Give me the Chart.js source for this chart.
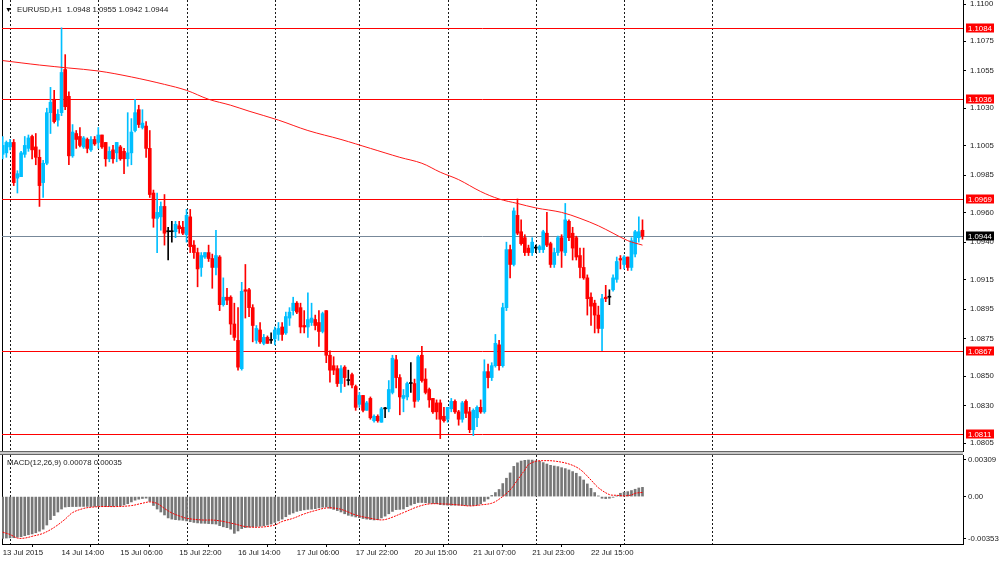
<!DOCTYPE html>
<html><head><meta charset="utf-8">
<script src="https://cdn.jsdelivr.net/npm/chart.js@4.4.0/dist/chart.umd.min.js"></script>
<style>
html,body{margin:0;padding:0;background:#fff;}
#wrap{position:relative;width:1000px;height:561px;overflow:hidden;background:#fff;}
canvas{position:absolute;left:0;}
#c1{top:0;}
#c2{top:455px;}
.txt{position:absolute;font-family:'Liberation Sans',Arial,sans-serif;font-size:7.8px;color:#222;white-space:pre;line-height:10px;}
.sep{position:absolute;left:0;width:963px;height:1px;}
</style></head><body>
<div id="wrap">
<canvas id="c1" width="1000" height="452"></canvas>
<canvas id="c2" width="1000" height="106"></canvas>
<div class="sep" style="top:451px;background:#666"></div>
<div class="sep" style="top:452px;background:#c8c8c8"></div>
<div class="sep" style="top:453px;background:#c8c8c8"></div>
<div class="sep" style="top:454px;background:#666"></div>
<div class="txt" style="left:5px;top:5px;font-size:7px;color:#000">▼</div>
<div class="txt" style="left:17px;top:5px">EURUSD,H1  1.0948 1.0955 1.0942 1.0944</div>
<div class="txt" style="left:7px;top:458px">MACD(12,26,9) 0.00078 0.00035</div>
</div>
<script>
// ---------- DATA ----------
const opens = [1.0999,1.1000,1.1004,1.1007,1.0983,1.0984,1.0999,1.1003,1.1011,1.1004,1.0997,1.0980,1.0993,1.1027,1.1036,1.1022,1.1027,1.1056,1.1038,1.0998,1.1013,1.1011,1.1004,1.1009,1.1002,1.1009,1.1007,1.1012,1.1007,1.0996,1.1002,1.1000,1.1004,1.1001,1.0996,1.1000,1.1015,1.1029,1.1017,1.1018,1.1003,1.0973,1.0956,1.0957,1.0964,1.0947,1.0947,1.0947,1.0951,1.0950,1.0945,1.0957,1.0938,1.0933,1.0923,1.0930,1.0933,1.0929,1.0923,1.0930,1.0898,1.0903,1.0903,1.0885,1.0874,1.0855,1.0908,1.0908,1.0896,1.0874,1.0881,1.0872,1.0876,1.0874,1.0875,1.0878,1.0883,1.0879,1.0889,1.0894,1.0899,1.0896,1.0884,1.0883,1.0886,1.0888,1.0886,1.0880,1.0894,1.0864,1.0857,1.0855,1.0845,1.0856,1.0847,1.0851,1.0843,1.0831,1.0837,1.0827,1.0835,1.0820,1.0823,1.0819,1.0828,1.0828,1.0839,1.0861,1.0849,1.0835,1.0836,1.0845,1.0845,1.0834,1.0864,1.0848,1.0841,1.0835,1.0832,1.0832,1.0823,1.0821,1.0828,1.0833,1.0826,1.0821,1.0833,1.0826,1.0814,1.0822,1.0829,1.0826,1.0853,1.0849,1.0857,1.0871,1.0857,1.0896,1.0935,1.0925,1.0958,1.0947,1.0943,1.0936,1.0933,1.0936,1.0935,1.0935,1.0946,1.0939,1.0925,1.0933,1.0943,1.0933,1.0954,1.0946,1.0943,1.0931,1.0923,1.0916,1.0903,1.0899,1.0891,1.0882,1.0903,1.0903,1.0908,1.0915,1.0929,1.0925,1.0930,1.0923,1.0932,1.0943,1.0948];
const highs = [1.1011,1.1008,1.1009,1.1009,1.0988,1.1001,1.1011,1.1012,1.1012,1.1013,1.1002,1.0995,1.1030,1.1044,1.1042,1.1029,1.1084,1.1066,1.1041,1.1019,1.1015,1.1017,1.1011,1.1010,1.1011,1.1011,1.1017,1.1012,1.1007,1.1004,1.1005,1.1007,1.1005,1.1003,1.1027,1.1023,1.1036,1.1032,1.1029,1.1021,1.1015,1.0975,1.0973,1.0967,1.0972,1.0950,1.0954,1.0954,1.0954,1.0954,1.0962,1.0962,1.0941,1.0936,1.0933,1.0933,1.0938,1.0932,1.0948,1.0931,1.0916,1.0909,1.0904,1.0899,1.0896,1.0913,1.0925,1.0909,1.0898,1.0884,1.0886,1.0878,1.0877,1.0879,1.0883,1.0886,1.0886,1.0893,1.0896,1.0903,1.0900,1.0899,1.0894,1.0906,1.0899,1.0891,1.0894,1.0893,1.0894,1.0867,1.0863,1.0857,1.0857,1.0857,1.0854,1.0852,1.0844,1.0839,1.0837,1.0833,1.0836,1.0824,1.0824,1.0829,1.0829,1.0847,1.0864,1.0864,1.0851,1.0841,1.0846,1.0859,1.0848,1.0864,1.0870,1.0855,1.0842,1.0835,1.0834,1.0834,1.0829,1.0829,1.0835,1.0834,1.0827,1.0833,1.0834,1.0829,1.0828,1.0830,1.0834,1.0861,1.0858,1.0859,1.0878,1.0874,1.0899,1.0940,1.0938,1.0963,1.0969,1.0955,1.0945,1.0938,1.0943,1.0938,1.0938,1.0948,1.0960,1.0940,1.0936,1.0944,1.0945,1.0966,1.0955,1.0950,1.0944,1.0936,1.0936,1.0918,1.0906,1.0901,1.0897,1.0905,1.0911,1.0908,1.0918,1.0930,1.0931,1.0931,1.0930,1.0943,1.0948,1.0957,1.0955];
const lows = [1.0996,1.0997,1.1002,1.0978,1.0973,1.0984,1.0997,1.1001,1.0996,1.0992,1.0964,1.0970,1.0992,1.1013,1.1020,1.1018,1.1025,1.1029,1.0992,1.0997,1.1003,1.1004,1.1003,1.1000,1.1001,1.1005,1.1003,1.1003,1.0991,1.0994,1.0993,1.0994,1.0995,1.0986,1.0991,1.0992,1.1014,1.1017,1.1016,1.0997,1.0970,1.0950,1.0933,1.0948,1.0938,1.0928,1.0940,1.0943,1.0946,1.0945,1.0940,1.0933,1.0929,1.0910,1.0917,1.0929,1.0927,1.0909,1.0918,1.0894,1.0897,1.0898,1.0878,1.0874,1.0854,1.0854,1.0889,1.0890,1.0873,1.0872,1.0872,1.0871,1.0872,1.0872,1.0871,1.0874,1.0874,1.0878,1.0884,1.0891,1.0892,1.0879,1.0879,1.0876,1.0884,1.0881,1.0870,1.0879,1.0859,1.0846,1.0851,1.0843,1.0839,1.0843,1.0844,1.0842,1.0827,1.0829,1.0826,1.0827,1.0821,1.0819,1.0819,1.0819,1.0822,1.0826,1.0838,1.0842,1.0824,1.0826,1.0834,1.0839,1.0829,1.0833,1.0846,1.0838,1.0829,1.0825,1.0821,1.0808,1.0819,1.0819,1.0826,1.0825,1.0817,1.0819,1.0822,1.0812,1.0810,1.0816,1.0825,1.0825,1.0842,1.0847,1.0856,1.0854,1.0856,1.0894,1.0916,1.0924,1.0945,1.0938,1.0931,1.0931,1.0931,1.0933,1.0933,1.0933,1.0937,1.0923,1.0923,1.0931,1.0923,1.0931,1.0941,1.0928,1.0928,1.0916,1.0915,1.0891,1.0884,1.0879,1.0879,1.0867,1.0900,1.0898,1.0907,1.0913,1.0922,1.0922,1.0921,1.0921,1.0930,1.0940,1.0942];
const closes = [1.1005,1.1007,1.1007,1.0980,1.0986,1.1000,1.1005,1.1010,1.1002,1.0997,1.0978,1.0993,1.1027,1.1034,1.1021,1.1026,1.1054,1.1031,1.0998,1.1014,1.1009,1.1005,1.1010,1.1003,1.1009,1.1006,1.1012,1.1004,1.0996,1.1001,1.0996,1.1007,1.0996,1.0996,1.1000,1.1014,1.1027,1.1019,1.1020,1.1003,1.0972,1.0956,1.0960,1.0964,1.0946,1.0947,1.0947,1.0952,1.0949,1.0946,1.0958,1.0937,1.0933,1.0922,1.0931,1.0933,1.0929,1.0923,1.0931,1.0898,1.0903,1.0901,1.0885,1.0876,1.0856,1.0907,1.0907,1.0896,1.0884,1.0882,1.0873,1.0876,1.0872,1.0874,1.0881,1.0882,1.0878,1.0890,1.0893,1.0899,1.0893,1.0883,1.0883,1.0888,1.0889,1.0884,1.0880,1.0892,1.0864,1.0854,1.0854,1.0845,1.0855,1.0849,1.0847,1.0844,1.0829,1.0837,1.0827,1.0832,1.0822,1.0823,1.0820,1.0828,1.0828,1.0841,1.0862,1.0849,1.0836,1.0837,1.0845,1.0845,1.0833,1.0863,1.0847,1.0839,1.0834,1.0826,1.0826,1.0821,1.0820,1.0829,1.0833,1.0826,1.0821,1.0832,1.0825,1.0814,1.0827,1.0829,1.0826,1.0853,1.0849,1.0857,1.0872,1.0857,1.0896,1.0935,1.0925,1.0961,1.0946,1.0939,1.0933,1.0933,1.0940,1.0936,1.0937,1.0947,1.0938,1.0925,1.0933,1.0943,1.0934,1.0955,1.0943,1.0936,1.0930,1.0923,1.0916,1.0902,1.0897,1.0891,1.0882,1.0902,1.0902,1.0903,1.0916,1.0927,1.0928,1.0930,1.0923,1.0941,1.0947,1.0947,1.0944];

// moving average, read at sampled bars
const maIdx = [0,10,18,26,35,44,50,56,62,67,75,83,92,100,108,114,119,124,130,135,140,145,152,157,162,166,170,174];
const maVal = [1.1062,1.1059,1.1057,1.1055,1.1051,1.1046,1.1042,1.1036,1.1032,1.1028,1.1022,1.1015,1.1009,1.1003,1.0997,1.0993,1.0987,1.0982,1.0974,1.0969,1.0966,1.0963,1.0960,1.0956,1.0951,1.0946,1.0941,1.0938];

// MACD main (histogram), one per bar
const macdHist = [-0.00353,-0.00350,-0.00348,-0.00347,-0.00343,-0.00338,-0.00330,-0.00322,-0.00315,-0.00305,-0.00292,-0.00275,-0.00240,-0.00195,-0.00160,-0.00130,-0.00105,-0.00088,-0.00085,-0.00084,-0.00084,-0.00083,-0.00083,-0.00083,-0.00084,-0.00083,-0.00082,-0.00082,-0.00084,-0.00083,-0.00082,-0.00080,-0.00078,-0.00070,-0.00060,-0.00045,-0.00030,-0.00022,-0.00016,-0.00013,-0.00040,-0.00075,-0.00105,-0.00130,-0.00155,-0.00180,-0.00190,-0.00195,-0.00198,-0.00200,-0.00205,-0.00212,-0.00218,-0.00222,-0.00225,-0.00226,-0.00228,-0.00230,-0.00232,-0.00245,-0.00255,-0.00262,-0.00275,-0.00310,-0.00290,-0.00270,-0.00262,-0.00258,-0.00255,-0.00252,-0.00250,-0.00246,-0.00240,-0.00232,-0.00218,-0.00205,-0.00190,-0.00170,-0.00150,-0.00138,-0.00125,-0.00118,-0.00112,-0.00108,-0.00106,-0.00102,-0.00095,-0.00090,-0.00088,-0.00098,-0.00108,-0.00118,-0.00130,-0.00145,-0.00158,-0.00165,-0.00172,-0.00178,-0.00185,-0.00190,-0.00194,-0.00197,-0.00195,-0.00180,-0.00165,-0.00145,-0.00125,-0.00110,-0.00108,-0.00105,-0.00085,-0.00072,-0.00060,-0.00050,-0.00050,-0.00052,-0.00056,-0.00058,-0.00060,-0.00068,-0.00070,-0.00072,-0.00073,-0.00073,-0.00073,-0.00074,-0.00075,-0.00076,-0.00075,-0.00072,-0.00060,-0.00040,-0.00020,0.00010,0.00034,0.00060,0.00110,0.00155,0.00200,0.00255,0.00285,0.00300,0.00306,0.00309,0.00308,0.00302,0.00298,0.00287,0.00275,0.00264,0.00258,0.00253,0.00244,0.00236,0.00225,0.00211,0.00197,0.00169,0.00140,0.00107,0.00070,0.00034,0.00006,-0.00014,-0.00017,-0.00014,-0.00006,0.00006,0.00028,0.00037,0.00042,0.00051,0.00062,0.00073,0.00078];

// MACD signal, read at sampled bars
const sigIdx = [0,2,4,6,8,11,14,17,19,22,24,27,31,35,38,40,42,44,46,48,50,54,58,63,66,70,74,76,79,82,85,88,91,93,96,100,103,105,109,113,116,120,124,127,130,133,135,138,140,142,143,145,147,150,154,157,160,162,165,167,169,171,172,174];
const sigVal = [-0.00300,-0.00320,-0.00350,-0.00350,-0.00335,-0.00310,-0.00260,-0.00190,-0.00135,-0.00100,-0.00090,-0.00084,-0.00084,-0.00076,-0.00056,-0.00045,-0.00058,-0.00100,-0.00138,-0.00163,-0.00183,-0.00197,-0.00200,-0.00230,-0.00253,-0.00258,-0.00240,-0.00210,-0.00183,-0.00146,-0.00118,-0.00096,-0.00100,-0.00118,-0.00155,-0.00183,-0.00197,-0.00185,-0.00135,-0.00084,-0.00062,-0.00062,-0.00070,-0.00079,-0.00070,-0.00056,-0.00022,0.00056,0.00140,0.00225,0.00270,0.00298,0.00303,0.00300,0.00275,0.00230,0.00140,0.00075,0.00017,0.00011,0.00006,0.00014,0.00028,0.00035];

const levelPrices = [1.1084, 1.1036, 1.0969, 1.0867, 1.0811];
const bidPrice = 1.0944;
const priceTicks = [1.1100,1.1075,1.1055,1.1030,1.1005,1.0985,1.0960,1.0940,1.0915,1.0895,1.0875,1.0850,1.0830,1.0805];
const macdTicks = [0.00309, 0, -0.00353];
const xLabelIdx = [0,16,32,48,64,80,96,112,128,144,160];
const xLabels = ["13 Jul 2015","14 Jul 14:00","15 Jul 06:00","15 Jul 22:00","16 Jul 14:00","17 Jul 06:00","17 Jul 22:00","20 Jul 15:00","21 Jul 07:00","21 Jul 23:00","22 Jul 15:00"];
const daySepIdx = [2,26,50,74,97,121,145,169,193];

// ---------- STYLE ----------
const FONT = "'Liberation Sans', Arial, sans-serif";
const FS = 7.8;
const BULL = '#00bfff', BEAR = '#ff0000', DOJI = '#000000';
const X_MIN = -0.19, X_MAX = 261.17;
const P_MIN = 1.07990, P_MAX = 1.11027;
const M_MIN = -0.00400, M_MAX = 0.00351;

const idx = opens.map((_, i) => i);
const candleColor = idx.map(i => closes[i] > opens[i] ? BULL : (closes[i] < opens[i] ? BEAR : DOJI));

function drawDaySeps(chart) {
  const {ctx, chartArea: a, scales: {x}} = chart;
  ctx.save();
  ctx.strokeStyle = '#1a1a1a'; ctx.lineWidth = 1; ctx.setLineDash([2, 2]);
  daySepIdx.forEach(d => {
    const px = Math.round(x.getPixelForValue(d)) + 0.5;
    if (px < a.left || px > a.right) return;
    ctx.beginPath(); ctx.moveTo(px, a.top); ctx.lineTo(px, a.bottom); ctx.stroke();
  });
  ctx.setLineDash([]);
  ctx.strokeStyle = '#000';
  ctx.beginPath(); ctx.moveTo(a.left + 0.5, a.top); ctx.lineTo(a.left + 0.5, a.bottom); ctx.stroke();
  ctx.restore();
}

const mainDeco = {
  id: 'mainDeco',
  beforeDatasetsDraw(chart) {
    drawDaySeps(chart);
    const {ctx, chartArea: a, scales: {y}} = chart;
    ctx.save();
    ctx.lineWidth = 1;
    ctx.strokeStyle = '#ff0000';
    levelPrices.forEach(p => {
      const py = Math.round(y.getPixelForValue(p)) + 0.5;
      ctx.beginPath(); ctx.moveTo(a.left, py); ctx.lineTo(a.right, py); ctx.stroke();
    });
    ctx.strokeStyle = '#778899';
    const by = Math.round(y.getPixelForValue(bidPrice)) + 0.5;
    ctx.beginPath(); ctx.moveTo(a.left, by); ctx.lineTo(a.right, by); ctx.stroke();
    ctx.restore();
  },
  afterDraw(chart) {
    const {ctx, chartArea: a, scales: {y}} = chart;
    ctx.save();
    ctx.font = FS + 'px ' + FONT;
    ctx.textBaseline = 'middle'; ctx.textAlign = 'left';
    const box = (p, bg) => {
      const py = Math.round(y.getPixelForValue(p));
      ctx.fillStyle = bg;
      ctx.fillRect(a.right + 3, py - 4.5, 28, 9);
      ctx.fillStyle = '#fff';
      ctx.fillText(p.toFixed(4), a.right + 5, py + 0.5);
    };
    levelPrices.forEach(p => box(p, '#ff0000'));
    box(bidPrice, '#000');
    ctx.restore();
  }
};

const macdDeco = { id: 'macdDeco', beforeDatasetsDraw(chart) { drawDaySeps(chart); } };

new Chart(document.getElementById('c1'), {
  type: 'bar',
  data: {
    datasets: [
      { type: 'line', data: maIdx.map((x, k) => ({x, y: maVal[k]})), borderColor: '#ff1a1a', borderWidth: 1,
        pointRadius: 0, tension: 0.35, order: 0 },
      { type: 'bar', data: idx.map(i => ({x: i, y: [opens[i], closes[i]]})), backgroundColor: candleColor,
        barThickness: 3, minBarLength: 1, grouped: false, borderWidth: 0, order: 1 },
      { type: 'bar', data: idx.map(i => ({x: i, y: [lows[i], highs[i]]})), backgroundColor: candleColor,
        barThickness: 1, grouped: false, borderWidth: 0, order: 2 }
    ]
  },
  options: {
    responsive: false, animation: false, devicePixelRatio: 1,
    layout: { padding: { left: 2, right: 0, top: 0, bottom: 0 } },
    plugins: { legend: { display: false }, tooltip: { enabled: false } },
    scales: {
      x: { type: 'linear', min: X_MIN, max: X_MAX, display: false, offset: false, grid: { display: false } },
      y: { type: 'linear', position: 'right', min: P_MIN, max: P_MAX, beginAtZero: false,
        afterBuildTicks: s => { s.ticks = priceTicks.map(v => ({value: v})); },
        afterFit: s => { s.width = 37; s.paddingTop = 0; s.paddingBottom = 0; },
        ticks: { callback: v => Number(v).toFixed(4), font: { family: FONT, size: FS }, color: '#222', padding: 4, autoSkip: false },
        grid: { drawOnChartArea: false, drawTicks: true, tickLength: 3, tickColor: '#000' },
        border: { display: true, color: '#000', width: 1 } }
    }
  },
  plugins: [mainDeco]
});

new Chart(document.getElementById('c2'), {
  type: 'bar',
  data: {
    datasets: [
      { type: 'line', data: sigIdx.map((x, k) => ({x, y: sigVal[k]})), borderColor: '#ff0000', borderWidth: 1,
        borderDash: [2, 1], pointRadius: 0, tension: 0.35, order: 0 },
      { type: 'bar', data: macdHist.map((v, i) => ({x: i, y: v})), backgroundColor: '#777777',
        barThickness: 2, grouped: false, borderWidth: 0, order: 1 }
    ]
  },
  options: {
    responsive: false, animation: false, devicePixelRatio: 1,
    layout: { padding: { left: 2, right: 0, top: 0, bottom: 0 } },
    plugins: { legend: { display: false }, tooltip: { enabled: false } },
    scales: {
      x: { type: 'linear', min: X_MIN, max: X_MAX, offset: false,
        afterBuildTicks: s => { s.ticks = xLabelIdx.map(v => ({value: v})); },
        afterFit: s => { s.height = 17; s.paddingLeft = 0; s.paddingRight = 0; },
        ticks: { callback: (v, k) => xLabels[k], align: 'start', maxRotation: 0, minRotation: 0, autoSkip: false,
          font: { family: FONT, size: FS }, color: '#222', padding: 1 },
        grid: { drawOnChartArea: false, drawTicks: true, tickLength: 3, tickColor: '#000' },
        border: { display: true, color: '#000', width: 1 } },
      y: { type: 'linear', position: 'right', min: M_MIN, max: M_MAX, beginAtZero: false,
        afterBuildTicks: s => { s.ticks = macdTicks.map(v => ({value: v})); },
        afterFit: s => { s.width = 37; s.paddingTop = 0; s.paddingBottom = 0; },
        ticks: { callback: v => (v === 0 ? '0.00' : Number(v).toFixed(5)), font: { family: FONT, size: FS }, color: '#222', padding: 2, autoSkip: false },
        grid: { drawOnChartArea: false, drawTicks: true, tickLength: 3, tickColor: '#000' },
        border: { display: true, color: '#000', width: 1 } }
    }
  },
  plugins: [macdDeco]
});
</script>
</body></html>
